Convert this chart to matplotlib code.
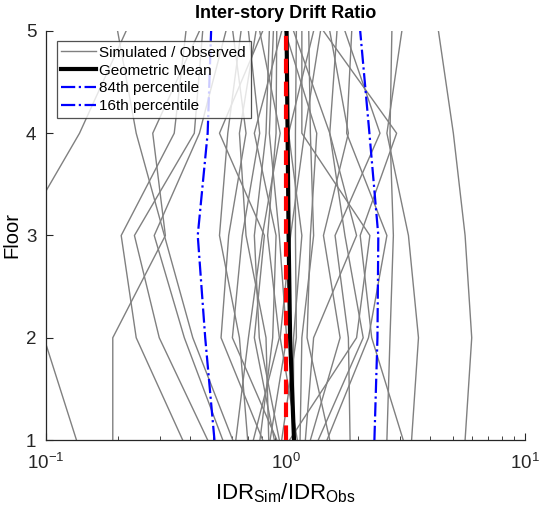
import matplotlib
matplotlib.use("Agg")
import matplotlib.pyplot as plt
import numpy as np

plt.rcParams['font.family'] = ['Liberation Sans', 'DejaVu Sans']
plt.rcParams['mathtext.fontset'] = 'custom'
plt.rcParams['mathtext.rm'] = 'Liberation Sans'
plt.rcParams['mathtext.it'] = 'Liberation Sans:italic'
plt.rcParams['mathtext.bf'] = 'Liberation Sans:bold'

floors = [1, 2, 3, 4, 5]

# Simulated / Observed ratios per record (values at floors 1..5)
records = [
    [0.134, 0.098, 0.078, 0.138, 0.216],
    [0.19, 0.19, 0.315, 0.279, 0.437],
    [0.372, 0.238, 0.206, 0.343, 0.384],
    [0.473, 0.297, 0.234, 0.416, 0.451],
    [0.547, 0.378, 0.283, 0.437, 0.564],
    [0.602, 0.41, 0.312, 0.238, 0.199],
    [0.695, 0.642, 0.53, 0.574, 0.652],
    [0.803, 0.538, 0.579, 0.684, 0.602],
    [0.851, 0.829, 0.684, 0.642, 0.753],
    [0.898, 0.741, 0.816, 0.53, 0.803],
    [0.942, 0.777, 0.741, 0.829, 0.856],
    [0.734, 0.942, 0.842, 0.913, 0.919],
    [0.782, 0.884, 0.913, 0.741, 0.964],
    [0.862, 1.011, 0.942, 0.856, 0.89],
    [0.62, 0.70, 0.80, 0.95, 0.78],
    [0.92, 0.60, 0.66, 0.78, 0.70],
    [5.62, 5.99, 5.62, 5.02, 4.35],
    [3.36, 3.59, 3.26, 2.65, 3.06],
    [3.1, 2.29, 2.05, 2.91, 1.44],
    [2.65, 2.73, 2.82, 2.73, 2.78],
    [1.86, 1.83, 1.61, 2.48, 1.77],
    [1.49, 2.22, 2.65, 1.8, 1.89],
    [1.37, 2.11, 1.77, 1.53, 1.64],
    [1.27, 1.69, 1.44, 1.83, 1.53],
    [1.15, 1.17, 1.31, 1.27, 1.25],
    [0.964, 1.11, 1.10, 1.10, 1.11],
    [1.04, 1.98, 2.25, 1.17, 1.17],
    [1.53, 1.23, 1.27, 1.35, 0.995],
    [1.21, 1.31, 1.98, 1.53, 1.08],
    [1.08, 1.08, 1.17, 1.03, 1.31],
    [1.12, 0.95, 1.05, 1.20, 1.40],
]

geo_mean = [1.085, 1.045, 1.03, 1.02, 1.01]
p84 = [2.35, 2.42, 2.44, 2.24, 2.05]
p16 = [0.505, 0.462, 0.430, 0.473, 0.489]
unity = [1.0, 1.0, 1.0, 1.0, 1.0]

fig = plt.figure(figsize=(5.42, 5.19), dpi=100)
ax = fig.add_axes([0.0849, 0.1522, 0.8838, 0.7881])

gray = (0.5, 0.5, 0.5)
for i, r in enumerate(records):
    ax.plot(r, floors, color=gray, lw=1.0,
            label='Simulated / Observed' if i == 0 else None, zorder=2)

ax.plot(geo_mean, floors, color='black', lw=3.0, label='Geometric Mean', zorder=4)
ax.plot(p84, floors, color='blue', lw=1.6, ls='-.', label='84th percentile', zorder=4)
ax.plot(p16, floors, color='blue', lw=1.6, ls='-.', label='16th percentile', zorder=4)
ax.plot(unity, floors, color='red', lw=3.0, ls=(0, (3.5, 2.0)), zorder=5)

ax.set_xscale('log')
ax.set_xlim(0.1, 10)
ax.set_ylim(1, 5)
ax.set_yticks([1, 2, 3, 4, 5])
ax.spines['top'].set_visible(False)
ax.spines['right'].set_visible(False)
for s in ['left', 'bottom']:
    ax.spines[s].set_color('#262626')
    ax.spines[s].set_linewidth(0.9)
ax.tick_params(which='both', direction='in', colors='#262626', labelsize=13.5)
ax.tick_params(axis='y', which='major', length=5, pad=7)
ax.tick_params(axis='x', which='major', length=5, pad=9)
ax.tick_params(which='minor', length=3)

ax.set_title('Inter-story Drift Ratio', fontsize=13, fontweight='bold', pad=9)
ax.set_xlabel(r'IDR$_{\mathrm{Sim}}$/IDR$_{\mathrm{Obs}}$', fontsize=16, labelpad=6)
ax.set_ylabel('Floor', fontsize=14.5, labelpad=3)

leg = ax.legend(loc='upper left', bbox_to_anchor=(0.022, 0.975), fontsize=11,
                frameon=True, fancybox=False, edgecolor='#262626',
                handlelength=2.3, handletextpad=0.2, borderpad=0.3,
                labelspacing=0.25, borderaxespad=0)
leg.get_frame().set_linewidth(0.9)

fig.savefig('out.png', dpi=100)
